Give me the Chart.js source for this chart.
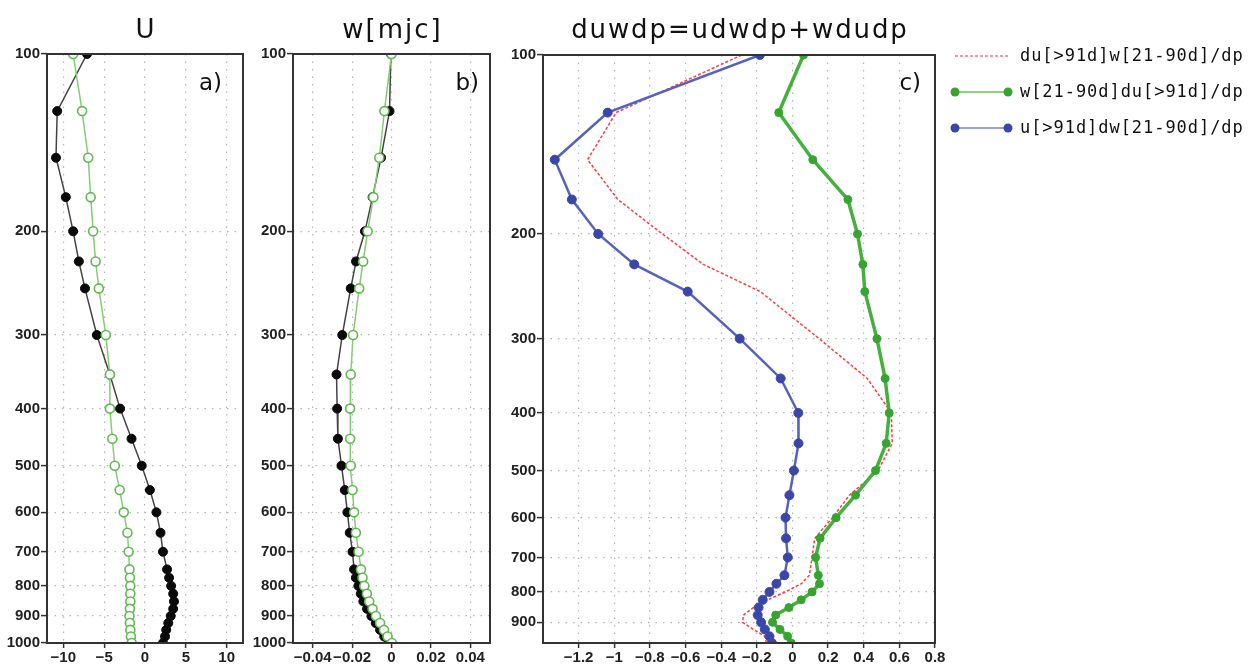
<!DOCTYPE html>
<html><head><meta charset="utf-8">
<script src="https://cdn.jsdelivr.net/npm/chart.js@4.4.1/dist/chart.umd.min.js"></script>
<style>
html,body{margin:0;padding:0;background:#fff;}
#wrap{position:relative;width:1256px;height:665px;overflow:hidden;background:#fff;}
.pane{position:absolute;top:0;height:665px;}
canvas{display:block;}
</style></head><body>
<div id="wrap">
  <div class="pane" style="left:0;width:250px"><canvas id="ca" width="250" height="665"></canvas></div>
  <div class="pane" style="left:250px;width:250px"><canvas id="cb" width="250" height="665"></canvas></div>
  <div class="pane" style="left:500px;width:756px"><canvas id="cc" width="756" height="665"></canvas></div>
</div>
<script>
// pressure levels (hPa)
const levels = [100,125,150,175,200,225,250,300,350,400,450,500,550,600,650,700,750,775,800,825,850,875,900,925,950,975,1000];

// panel a) U
const uBlack = [-7.1,-10.75,-10.9,-9.7,-8.8,-8.1,-7.35,-5.9,-4.3,-3.05,-1.65,-0.4,0.6,1.4,1.9,2.2,2.7,2.95,3.2,3.45,3.55,3.45,3.15,2.85,2.6,2.45,2.2];
const uGreen = [-8.8,-7.7,-6.95,-6.65,-6.35,-6.05,-5.65,-4.8,-4.3,-4.3,-4.0,-3.7,-3.1,-2.6,-2.15,-2.0,-1.9,-1.85,-1.8,-1.8,-1.8,-1.85,-1.9,-1.85,-1.8,-1.72,-1.63];

// panel b) w[mjc]
const wBlack = [-0.0003,-0.001,-0.0053,-0.0096,-0.0135,-0.018,-0.0207,-0.025,-0.0279,-0.0276,-0.0272,-0.0254,-0.0237,-0.0224,-0.0212,-0.0198,-0.019,-0.0181,-0.0168,-0.0156,-0.0143,-0.0124,-0.0102,-0.008,-0.0058,-0.0037,-0.0015];
const wGreen = [0.0,-0.0036,-0.0062,-0.0092,-0.0121,-0.0144,-0.0164,-0.0195,-0.0207,-0.021,-0.021,-0.0207,-0.0198,-0.019,-0.0181,-0.0167,-0.0155,-0.0147,-0.0138,-0.0125,-0.0113,-0.0096,-0.0079,-0.0058,-0.0038,-0.002,0.0002];

// panel c) duwdp (levels 100..975)
const cRed   = [-0.285,-0.99,-1.15,-0.98,-0.73,-0.5,-0.18,0.15,0.42,0.555,0.56,0.48,0.32,0.225,0.125,0.11,0.095,0.05,-0.04,-0.14,-0.22,-0.275,-0.28,-0.22,-0.155,-0.145];
const cGreen = [0.062,-0.077,0.114,0.311,0.365,0.395,0.406,0.474,0.52,0.543,0.526,0.466,0.354,0.245,0.155,0.13,0.145,0.152,0.11,0.049,-0.02,-0.094,-0.112,-0.07,-0.027,-0.007];
const cBlue  = [-0.183,-1.037,-1.334,-1.238,-1.09,-0.888,-0.588,-0.296,-0.066,0.033,0.034,0.008,-0.017,-0.039,-0.036,-0.026,-0.045,-0.09,-0.129,-0.167,-0.19,-0.195,-0.176,-0.155,-0.129,-0.115];

// ticks
const yTicks  = [100,200,300,400,500,600,700,800,900,1000];
const yTicksC = [100,200,300,400,500,600,700,800,900];
const xTicksA = [-10,-5,0,5,10];
const xLabelsA = ['\u221210','\u22125','0','5','10'];
const xTicksB = [-0.04,-0.02,0,0.02,0.04];
const xLabelsB = ['\u22120.04','\u22120.02','0','0.02','0.04'];
const xTicksC = [-1.2,-1,-0.8,-0.6,-0.4,-0.2,0,0.2,0.4,0.6,0.8];
const xLabelsC = ['\u22121.2','\u22121','\u22120.8','\u22120.6','\u22120.4','\u22120.2','0','0.2','0.4','0.6','0.8'];

const titles = ['U', 'w[mjc]', 'duwdp=udwdp+wdudp'];
const tags = ['a)', 'b)', 'c)'];
const legendLabels = ['du[>91d]w[21-90d]/dp', 'w[21-90d]du[>91d]/dp', 'u[>91d]dw[21-90d]/dp'];

const pts = (vals) => vals.map((v, i) => ({x: v, y: levels[i]}));

const decoPlugin = {
  id: 'deco',
  afterDraw(chart, args, opts) {
    const ctx = chart.ctx, a = chart.chartArea;
    ctx.save();
    ctx.strokeStyle = '#333';
    ctx.lineWidth = 2;
    ctx.strokeRect(a.left, a.top, a.right - a.left, a.bottom - a.top);
    ctx.fillStyle = '#111';
    ctx.font = '26px "DejaVu Sans"';
    const ls = opts.titleSpacing || 0;
    ctx.letterSpacing = ls + 'px';
    ctx.textAlign = 'center';
    ctx.textBaseline = 'alphabetic';
    ctx.fillText(opts.title, (a.left + a.right) / 2 + ls / 2, 38);
    ctx.letterSpacing = '0px';
    ctx.font = '23px "DejaVu Sans"';
    ctx.textAlign = 'right';
    ctx.fillText(opts.tag, a.right - opts.tagRight, 90);
    ctx.restore();
  }
};

const legendPlugin = {
  id: 'sideLegend',
  afterDraw(chart, args, opts) {
    if (!opts || !opts.rows) return;
    const ctx = chart.ctx;
    ctx.save();
    ctx.font = '17px "DejaVu Sans Mono"';
    ctx.letterSpacing = '0.95px';
    ctx.textBaseline = 'middle';
    ctx.textAlign = 'left';
    chart.data.datasets.forEach((ds, i) => {
      const y = opts.rows[i];
      ctx.beginPath();
      ctx.setLineDash(ds.borderDash || []);
      ctx.strokeStyle = ds.legendColor || ds.borderColor;
      ctx.lineWidth = 1.5;
      ctx.moveTo(opts.x0, y);
      ctx.lineTo(opts.x1, y);
      ctx.stroke();
      ctx.setLineDash([]);
      if (ds.pointRadius > 0) {
        ctx.fillStyle = ds.pointBackgroundColor;
        [opts.x0, opts.x1].forEach(x => {
          ctx.beginPath();
          ctx.arc(x, y, 4.5, 0, Math.PI * 2);
          ctx.fill();
        });
      }
      ctx.fillStyle = '#111';
      ctx.fillText(ds.label, opts.tx, y + 1);
    });
    ctx.restore();
  }
};

const tickFont = {family: '"Liberation Sans", Arial, sans-serif', size: 15, weight: 'bold'};
const gridCommon = {color: '#b4b4b4', lineWidth: 1.2, tickColor: '#333', tickWidth: 1.5, tickBorderDash: []};

function makePanel(id, cfg) {
  return new Chart(document.getElementById(id), {
    type: 'scatter',
    data: {datasets: cfg.datasets},
    options: {
      responsive: false,
      animation: false,
      events: [],
      layout: {padding: {top: cfg.top, right: cfg.right, left: 0, bottom: 0}},
      plugins: {
        legend: {display: false},
        tooltip: {enabled: false},
        deco: {title: cfg.title, tag: cfg.tag, tagRight: cfg.tagRight, titleSpacing: cfg.titleSpacing},
        sideLegend: cfg.legend || {}
      },
      scales: {
        x: {
          type: 'linear', min: cfg.xmin, max: cfg.xmax,
          afterBuildTicks: s => { s.ticks = cfg.xTicks.map(v => ({value: v})); },
          afterFit: s => { s.height = 665 - 643; },
          ticks: {callback: (v, i) => cfg.xLabels[i], font: tickFont, color: '#222', padding: 1, maxRotation: 0, autoSkip: false},
          grid: Object.assign({tickLength: 5}, gridCommon),
          border: {display: false, dash: [1.5, 6]}
        },
        y: {
          type: 'logarithmic', reverse: true, min: 100, max: cfg.ymax,
          afterBuildTicks: s => { s.ticks = cfg.yTicks.map(v => ({value: v})); },
          afterFit: s => { s.width = cfg.yw; },
          ticks: {callback: v => String(v), font: tickFont, color: '#222', padding: 1, autoSkip: false},
          grid: Object.assign({tickLength: 6}, gridCommon),
          border: {display: false, dash: [1.5, 6]}
        }
      }
    },
    plugins: [decoPlugin, legendPlugin]
  });
}

const lightGreenLine = '#86cc76';
const lightGreenMark = '#5fb94f';

makePanel('ca', {
  title: titles[0], tag: tags[0], tagRight: 21, titleSpacing: 2,
  top: 54, right: 7, yw: 47, ymax: 1000,
  xmin: -12, xmax: 12, xTicks: xTicksA, xLabels: xLabelsA, yTicks: yTicks,
  datasets: [
    {label: 'U green', data: pts(uGreen), showLine: true, borderColor: lightGreenLine, borderWidth: 1.5,
     pointRadius: 4.5, pointBackgroundColor: '#fff', pointBorderColor: lightGreenMark, pointBorderWidth: 1.6, order: 0},
    {label: 'U black', data: pts(uBlack), showLine: true, borderColor: '#444', borderWidth: 1.5,
     pointRadius: 4.5, pointBackgroundColor: '#0a0a0a', pointBorderColor: '#0a0a0a', pointBorderWidth: 1, order: 1}
  ]
});

makePanel('cb', {
  title: titles[1], tag: tags[1], tagRight: 11, titleSpacing: 2,
  top: 54, right: 10, yw: 43, ymax: 1000,
  xmin: -0.05, xmax: 0.05, xTicks: xTicksB, xLabels: xLabelsB, yTicks: yTicks,
  datasets: [
    {label: 'w green', data: pts(wGreen), showLine: true, borderColor: lightGreenLine, borderWidth: 1.5,
     pointRadius: 4.5, pointBackgroundColor: '#fff', pointBorderColor: lightGreenMark, pointBorderWidth: 1.6, order: 0},
    {label: 'w black', data: pts(wBlack), showLine: true, borderColor: '#444', borderWidth: 1.5,
     pointRadius: 4.5, pointBackgroundColor: '#0a0a0a', pointBorderColor: '#0a0a0a', pointBorderWidth: 1, order: 1}
  ]
});

makePanel('cc', {
  title: titles[2], tag: tags[2], tagRight: 14, titleSpacing: 1.9,
  top: 55, right: 756 - 435, yw: 43, ymax: 975,
  xmin: -1.4, xmax: 0.8, xTicks: xTicksC, xLabels: xLabelsC, yTicks: yTicksC,
  legend: {rows: [56, 92, 128], x0: 455, x1: 508, tx: 520},
  datasets: [
    {label: legendLabels[0], data: pts(cRed), showLine: true, borderColor: '#ff3c3c', legendColor: '#ff7070',
     borderWidth: 1.5, borderDash: [3, 2], pointRadius: 0, order: 2},
    {label: legendLabels[1], data: pts(cGreen), showLine: true, borderColor: '#45b03d', legendColor: '#6cc062',
     borderWidth: 3.5, pointRadius: 4, pointBackgroundColor: '#36a42e', pointBorderColor: '#36a42e', pointBorderWidth: 1, order: 1},
    {label: legendLabels[2], data: pts(cBlue), showLine: true, borderColor: '#5563bd', legendColor: '#7884cc',
     borderWidth: 2.5, pointRadius: 4.5, pointBackgroundColor: '#3a47a8', pointBorderColor: '#3a47a8', pointBorderWidth: 1, order: 0}
  ]
});
</script>
</body></html>
